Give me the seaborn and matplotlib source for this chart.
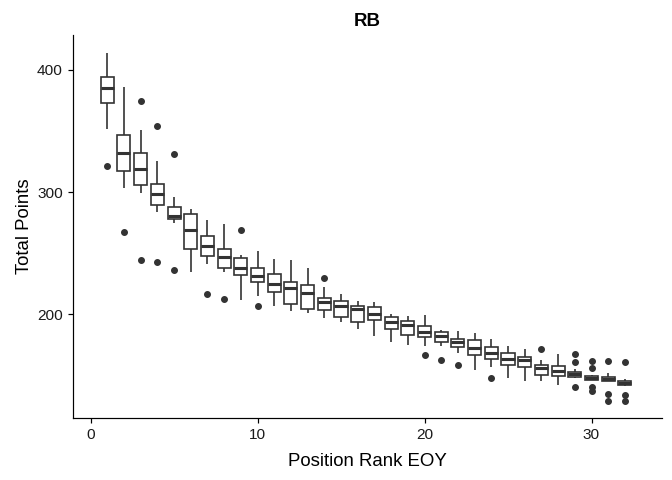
import numpy as np
import pandas as pd
import seaborn as sns
import matplotlib
matplotlib.use("Agg")
import matplotlib.pyplot as plt

# Box statistics (per position rank)
ranks = list(range(1, 33))
whisker_low = [351.9, 303.4, 299.5, 283.7, 274.5, 234.4, 240.9, 234.4, 211.5, 215.2,
               207.0, 202.7, 200.8, 196.7, 193.9, 188.2, 182.5, 177.6, 175.4, 174.1,
               174.1, 168.3, 154.7, 157.1, 147.8, 145.7, 145.5, 142.1, 147.8, 146.0,
               145.3, 141.5]
q1 = [372.7, 317.3, 306.1, 289.4, 277.7, 253.7, 248.0, 238.1, 232.2, 226.2,
      218.0, 208.2, 204.3, 203.5, 198.0, 193.7, 195.3, 188.0, 182.8, 181.5,
      177.3, 173.0, 167.0, 163.5, 158.5, 157.1, 150.6, 149.5, 148.9, 146.5,
      145.8, 141.9]
median = [385.2, 332.2, 318.9, 298.7, 280.7, 269.0, 256.3, 246.6, 237.6, 231.6,
          224.5, 221.3, 217.2, 210.3, 206.8, 204.1, 200.2, 193.9, 191.2, 186.0,
          182.4, 177.3, 172.9, 168.6, 163.7, 162.6, 156.0, 153.4, 151.2, 148.1,
          147.3, 143.8]
q3 = [393.9, 346.5, 332.2, 306.9, 288.1, 282.3, 263.8, 253.3, 246.3, 238.1,
      233.0, 226.4, 224.0, 213.6, 211.1, 206.8, 206.2, 197.5, 194.5, 190.5,
      185.7, 179.6, 178.9, 173.1, 168.6, 165.3, 158.5, 157.7, 153.0, 149.8,
      148.8, 145.8]
whisker_high = [414.1, 385.8, 350.8, 325.4, 295.7, 285.9, 277.2, 273.6, 248.5, 251.8,
                245.3, 244.4, 237.6, 222.6, 216.4, 211.1, 209.8, 200.0, 198.9, 199.2,
                187.5, 186.8, 185.2, 180.3, 174.3, 171.4, 162.6, 167.8, 155.0, 150.5,
                152.1, 146.8]
outliers = {
    1: [321.4], 2: [267.1], 3: [374.5, 244.4], 4: [354.3, 242.5], 5: [331.4, 236.0],
    7: [216.9], 8: [212.3], 9: [269.0], 10: [207.0], 14: [230.0],
    20: [166.7], 21: [162.6], 22: [158.5], 24: [148.0], 27: [171.4],
    29: [167.6, 160.7, 140.9], 30: [162.0, 156.1, 140.8, 137.0],
    31: [161.6, 135.1, 129.5], 32: [160.7, 134.0, 129.1],
}

# Build a sample per rank that reproduces these statistics
M = 40
rows = []
for i, r in enumerate(ranks):
    vals = [whisker_low[i]] + [q1[i]] * M + [median[i]] * M + [q3[i]] * M + [whisker_high[i]]
    vals += outliers.get(r, [])
    rows += [(r, v) for v in vals]
df = pd.DataFrame(rows, columns=["rank", "points"])

sns.set_theme(style="ticks")
plt.rcParams["font.family"] = ["Liberation Sans", "DejaVu Sans"]

fig = plt.figure(figsize=(7, 5), dpi=96)
ax = fig.add_axes([0.1086, 0.129, 0.876, 0.798])

line_c = "#333333"
sns.boxplot(data=df, x="rank", y="points", native_scale=True, ax=ax,
            width=0.78, color="white", linecolor=line_c, linewidth=1.25,
            fliersize=4.2, showcaps=False,
            flierprops=dict(marker="o", markerfacecolor=line_c, markeredgecolor=line_c),
            medianprops=dict(color=line_c, linewidth=2.3))

ax.set_xlim(-1.05, 34.2)
ax.set_ylim(115.2, 428.6)
ax.set_xticks([0, 10, 20, 30])
ax.set_yticks([200, 300, 400])
ax.set_xticklabels(["0", "10", "20", "30"])
ax.set_yticklabels(["200", "300", "400"])
ax.tick_params(axis="both", labelsize=11.5, colors="black", length=4, width=0.9,
               labelcolor="#1a1a1a")
for s in ["top", "right"]:
    ax.spines[s].set_visible(False)
for s in ["left", "bottom"]:
    ax.spines[s].set_color("black")
    ax.spines[s].set_linewidth(0.9)

ax.set_xlabel("Position Rank EOY", fontsize=14, color="black", labelpad=8)
ax.set_ylabel("Total Points", fontsize=14, color="black", labelpad=3)
ax.set_title("RB", fontsize=14, fontweight="bold", color="black", pad=7)

fig.savefig("out.png", dpi=96, facecolor="white")
